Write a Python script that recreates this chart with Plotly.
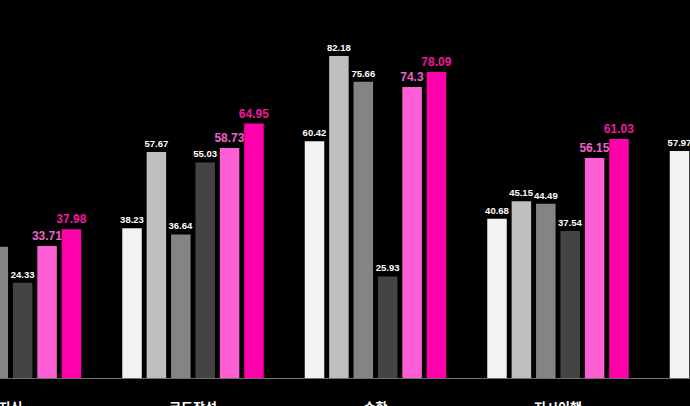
import plotly.graph_objects as go

# categories (first and last groups are only partly visible in the frame)
categories = ["지식", "코드작성", "수학", "지시이행", "추론"]

# six series per category
# (values for bars that sit outside the frame are rough guesses)
series_1 = [30.12, 38.23, 60.42, 40.68, 57.97]
series_2 = [41.05, 57.67, 82.18, 45.15, 62.40]
series_3 = [33.51, 36.64, 75.66, 44.49, 55.20]
series_4 = [24.33, 55.03, 25.93, 37.54, 40.10]
series_5 = [33.71, 58.73, 74.30, 56.15, 66.80]
series_6 = [37.98, 64.95, 78.09, 61.03, 70.50]

bar_colors = ["#f2f2f2", "#bfbfbf", "#848484", "#444444", "#ff5fd4", "#ff00aa"]
text_colors = ["#ffffff", "#ffffff", "#ffffff", "#ffffff", "#f060cc", "#f0189f"]
text_sizes = [9.5, 9.5, 9.5, 9.5, 12, 12]

all_series = [series_1, series_2, series_3, series_4, series_5, series_6]


def fmt(v):
    s = "%.2f" % v
    return s.rstrip("0").rstrip(".")


fig = go.Figure()
for i, vals in enumerate(all_series):
    fig.add_trace(go.Bar(
        x=categories,
        y=vals,
        marker=dict(color=bar_colors[i], line=dict(width=0)),
        text=[fmt(v) for v in vals],
        textposition="outside",
        textangle=0,
        constraintext="none",
        cliponaxis=False,
        textfont=dict(color=text_colors[i], size=text_sizes[i],
                      family="Liberation Sans", weight="bold"),
        showlegend=False,
    ))

fig.update_layout(
    width=690,
    height=406,
    margin=dict(l=0, r=0, t=0, b=28),
    paper_bgcolor="#000000",
    plot_bgcolor="#000000",
    barmode="group",
    bargap=0.198,
    bargroupgap=0.2,
    xaxis=dict(
        range=[-0.0575, 3.7233],
        showgrid=False,
        showline=True,
        linecolor="#6e6e6e",
        linewidth=1,
        ticks="",
        tickfont=dict(color="#ffffff", size=13, family="Noto Sans CJK KR", weight="bold"),
        ticklabelstandoff=17,
        automargin=False,
        zeroline=False,
    ),
    yaxis=dict(
        range=[0, 96.5],
        visible=False,
        showgrid=False,
        zeroline=False,
        automargin=False,
    ),
)

fig.write_html(
    "out.html",
    config={"displayModeBar": False},
    post_script="document.body.style.margin='0';document.body.style.overflow='hidden';document.body.style.background='#000';",
)
